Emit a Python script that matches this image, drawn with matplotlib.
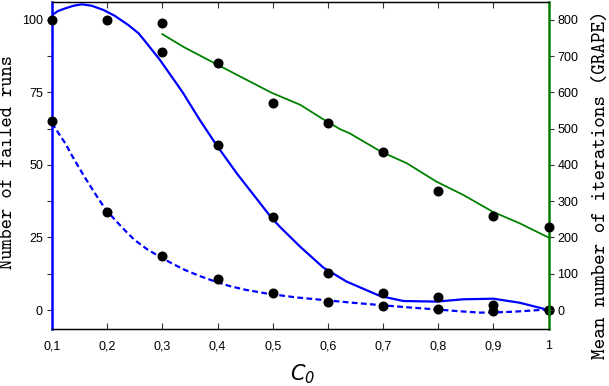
import matplotlib
matplotlib.use("Agg")
import matplotlib.pyplot as plt
from matplotlib.ticker import MultipleLocator, FixedLocator

# ---- data points ----
c0 = [0.1, 0.2, 0.3, 0.4, 0.5, 0.6, 0.7, 0.8, 0.9, 1.0]
failed_a = [100, 100, 89, 57, 32, 12.6, 6.0, 4.6, 1.7, 0]
failed_b = [65.3, 33.7, 18.6, 10.7, 6.0, 2.7, 1.5, 0.3, -0.3, 0]
c0_iter = [0.3, 0.4, 0.5, 0.6, 0.7, 0.8, 0.9, 1.0]
iterations = [791, 680, 572, 517, 437, 329, 259, 230]

# ---- fitted curves ----
fit_a_x = [0.1, 0.111, 0.124, 0.139, 0.154, 0.172, 0.194, 0.214, 0.238, 0.257,
           0.269, 0.295, 0.329, 0.338, 0.368, 0.397, 0.435, 0.497, 0.513, 0.550,
           0.592, 0.634, 0.695, 0.737, 0.797, 0.846, 0.900, 0.948, 1.0]
fit_a_y = [101.7, 103.1, 104.0, 104.9, 105.4, 104.9, 103.4, 101.4, 98.3, 95.4,
           92.6, 86.4, 77.2, 74.7, 65.5, 57.2, 47.1, 32.0, 28.7, 21.8,
           14.6, 9.8, 4.8, 3.1, 2.9, 3.7, 3.9, 2.5, 0.0]
fit_b_x = [0.1, 0.112, 0.124, 0.136, 0.148, 0.160, 0.172, 0.183, 0.194, 0.207,
           0.220, 0.235, 0.250, 0.272, 0.295, 0.318, 0.341, 0.368, 0.396,
           0.423, 0.450, 0.495, 0.545, 0.595, 0.645, 0.695, 0.746, 0.797,
           0.836, 0.876, 0.906, 0.936, 0.968, 1.0]
fit_b_y = [64.5, 60.9, 57.5, 53.3, 49.4, 45.6, 42.0, 38.7, 35.6, 32.6,
           29.9, 26.9, 24.1, 21.0, 18.4, 16.0, 13.8, 11.7, 9.8,
           8.2, 7.0, 5.5, 4.3, 3.4, 2.5, 1.7, 0.9, 0.2,
           -0.4, -0.9, -0.8, -0.6, -0.2, 0.2]
fit_it_x = [0.3, 0.338, 0.397, 0.459, 0.497, 0.550, 0.596, 0.622, 0.640, 0.696,
            0.743, 0.797, 0.846, 0.899, 0.948, 1.0]
fit_it_y = [761, 726, 679, 630, 600, 566, 522, 499, 487, 437,
            405, 354, 317, 271, 239, 200]

xtick_vals = [0.1, 0.2, 0.3, 0.4, 0.5, 0.6, 0.7, 0.8, 0.9, 1.0]
xtick_labels = ["0,1", "0,2", "0,3", "0,4", "0,5", "0,6", "0,7", "0,8", "0,9", "1"]

BLUE = "#0000ff"
GREEN = "#008000"

plt.rcParams['font.family'] = ['Liberation Sans', 'DejaVu Sans']
plt.rcParams['mathtext.fontset'] = 'custom'
plt.rcParams['mathtext.it'] = 'DejaVu Sans:italic'
plt.rcParams['mathtext.rm'] = 'DejaVu Sans:italic'

fig = plt.figure(figsize=(6.09, 3.86), dpi=100)
ax = fig.add_axes([52/609, 1-329/386, (548.5-52)/609, (329-2)/386])
ax2 = ax.twinx()

ax.plot(fit_a_x, fit_a_y, color=BLUE, lw=1.6, zorder=3, solid_joinstyle='round')
ax.plot(fit_b_x, fit_b_y, color=BLUE, lw=1.6, ls=(0, (2.6, 1.5)), zorder=3)
ax2.plot(fit_it_x, fit_it_y, color=GREEN, lw=1.3, zorder=3)

ax.plot(c0, failed_a, 'o', color='black', ms=6.2, zorder=5, clip_on=False)
ax.plot(c0, failed_b, 'o', color='black', ms=6.2, zorder=5, clip_on=False)
ax2.plot(c0_iter, iterations, 'o', color='black', ms=6.2, zorder=5, clip_on=False)

ax.set_xlim(0.1, 1.0)
ax.set_ylim(-6.55, 106.2)
ax2.set_ylim(-6.55*8, 106.2*8)

ax.xaxis.set_major_locator(FixedLocator(xtick_vals))
ax.set_xticklabels(xtick_labels)
ax.yaxis.set_major_locator(MultipleLocator(25))
ax.yaxis.set_minor_locator(MultipleLocator(12.5))
ax2.set_yticks(range(0, 801, 100))

ax.tick_params(axis='x', direction='in', top=True, bottom=True, length=4.5,
               width=0.8, pad=8, labelsize=9, color='#333333')
ax.tick_params(axis='y', which='both', direction='out', left=True, right=False,
               length=3.5, width=0.8, pad=3, labelsize=9, color='#333333')
ax2.tick_params(axis='y', direction='out', length=3.5, width=0.8, pad=3,
                labelsize=9, color='#333333')

for a in (ax, ax2):
    a.spines['top'].set_linewidth(0.9)
    a.spines['bottom'].set_linewidth(0.9)
ax.spines['left'].set_color(BLUE)
ax.spines['left'].set_linewidth(1.8)
ax.spines['right'].set_visible(False)
ax2.spines['left'].set_visible(False)
ax2.spines['right'].set_color(GREEN)
ax2.spines['right'].set_linewidth(1.8)

fig.text(8/609, 1-162/386, "Number of failed runs", rotation=90,
         family='cmtt10', fontsize=14, ha='center', va='center')
fig.text(601/609, 1-185/386, "Mean number of iterations (GRAPE)", rotation=90,
         family='cmtt10', fontsize=14.5, ha='center', va='center')
fig.text(303/609, 1-374/386, r"$\mathit{C_0}$", fontsize=15, ha='center', va='center')

fig.savefig("out.png", dpi=100)
